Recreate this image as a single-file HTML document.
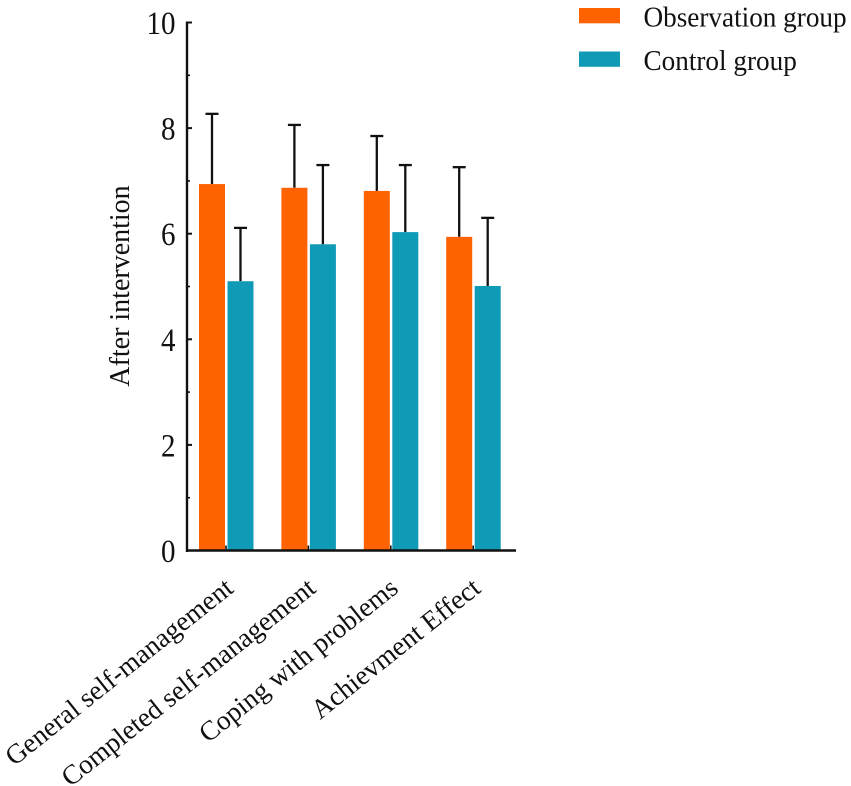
<!DOCTYPE html>
<html>
<head>
<meta charset="utf-8">
<style>
html,body{margin:0;padding:0;background:#fff;}
svg{display:block;}
text{font-family:"Liberation Serif",serif;fill:#111;}
</style>
</head>
<body>
<svg id="chart" width="851" height="786" viewBox="0 0 851 786" xmlns="http://www.w3.org/2000/svg">
<g id="plot"></g>
</svg>
<script>
const categories = ["General self-management", "Completed self-management", "Coping with problems", "Achievment Effect"];
const seriesNames = ["Observation group", "Control group"];
const observationValues = [6.94, 6.87, 6.81, 5.94];
const controlValues = [5.10, 5.80, 6.03, 5.01];
const observationErrors = [1.33, 1.19, 1.04, 1.32];
const controlErrors = [1.01, 1.50, 1.27, 1.29];
const majorTicks = [0, 2, 4, 6, 8, 10];
const minorTicks = [1, 3, 5, 7, 9];
const yAxisTitle = "After intervention";

const NS = "http://www.w3.org/2000/svg";
const root = document.getElementById("plot");
const COLORS = ["#ff6200", "#0f9ab6"];
const INK = "#111";
const y0 = 550.5, yTop = 22.5, yMax = 10;
const xFirst = 226, xStep = 82.4;
const yScale = v => y0 - (v / yMax) * (y0 - yTop);
const xScale = i => xFirst + i * xStep;

function make(tag, attrs, text) {
  const el = document.createElementNS(NS, tag);
  for (const k in attrs) el.setAttribute(k, attrs[k]);
  if (text !== undefined) el.textContent = text;
  root.appendChild(el);
  return el;
}
function line(x1, y1, x2, y2, w) {
  return make("line", {x1, y1, x2, y2, stroke: INK, "stroke-width": w});
}

[observationValues, controlValues].forEach((vals, s) => {
  const errs = s === 0 ? observationErrors : controlErrors;
  vals.forEach((v, i) => {
    const left = s === 0 ? xScale(i) - 27 : xScale(i) + 1.5;
    const cx = left + 13;
    const yv = yScale(v), ye = yScale(v + errs[i]);
    const stem = line(cx, yv, cx, ye, 2.3);
    
    
    const cap = line(cx - 6.5, ye, cx + 6.5, ye, 2.3);
    
    
    const bar = make("rect", {x: left, y: yv, width: 26, height: y0 - yv, fill: COLORS[s]});
    
    
  });
});

const yAxis = line(187, yTop - 1, 187, y0 + 1.5, 2.4);


const xAxis = line(186, y0, 516, y0, 2.4);



majorTicks.forEach(t => {
  const y = yScale(t);
  if (t !== 0) {
    const tick = line(187, y, 192, y, 2);
    
    
  }
  const label = make("text", {x: 0, y: 0, "text-anchor": "end", "font-size": 29, transform: "translate(175.5 " + (y + 11.5) + ") scale(1 1.12)"}, String(t));
  
  
});
minorTicks.forEach(t => {
  const y = yScale(t);
  const tick = line(187, y, 190, y, 1.6);
  
  
});

categories.forEach((c, i) => {
  const x = xScale(i);
  const tick = line(x, y0, x, y0 - 5, 1.6);
  
  
  const ax = x + 9, ay = 591;
  const label = make("text", {x: ax, y: ay, "text-anchor": "end", "font-size": 27.4, transform: "rotate(-38.5 " + ax + " " + ay + ")"}, c);
  
  
});

const title = make("text", {x: 0, y: 0, "text-anchor": "middle", "font-size": 28, transform: "translate(129 286) rotate(-90)"}, yAxisTitle);



seriesNames.forEach((n, s) => {
  const top = 8 + s * 43.5;
  const swatch = make("rect", {x: 579, y: top, width: 41, height: 15.3, fill: COLORS[s]});
  
  
  const label = make("text", {x: 0, y: 0, "font-size": 27.2, transform: "translate(643.5 " + (26.5 + s * 43.7) + ") scale(1 1.06)"}, n);
  
  
});
</script>
</body>
</html>
